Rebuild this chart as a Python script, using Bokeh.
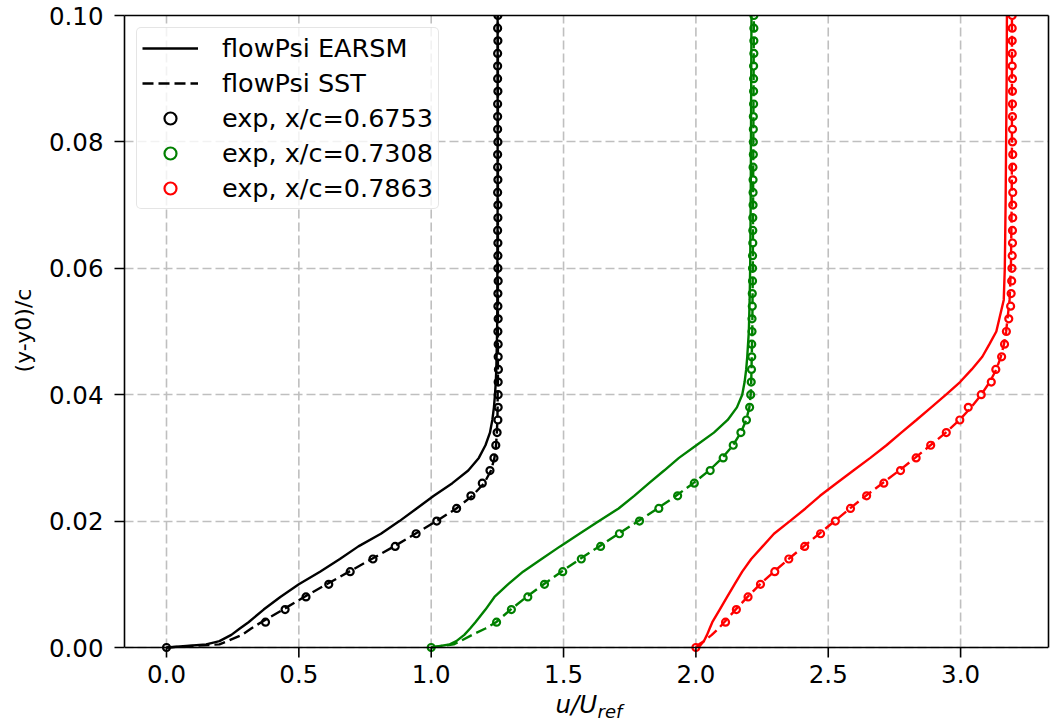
import math
from bokeh.plotting import figure
from bokeh.layouts import row, column
from bokeh.models import (Range1d, FixedTicker, PrintfTickFormatter, Legend, LegendItem,
                          Grid, LinearAxis)
from bokeh.core.properties import value
from bokeh.embed import file_html
from bokeh.resources import INLINE

# ---------------- data ----------------
offsets = [0.0, 1.0, 2.0]
colors = ["black", "green", "red"]
exp_labels = ["exp, x/c=0.6753", "exp, x/c=0.7308", "exp, x/c=0.7863"]

exp_y = [0.000, 0.004, 0.006, 0.008, 0.010, 0.012, 0.014, 0.016, 0.018, 0.020,
         0.022, 0.024, 0.026, 0.028, 0.030, 0.032, 0.034, 0.036, 0.038, 0.040,
         0.042, 0.044, 0.046, 0.048, 0.050, 0.052, 0.054, 0.056, 0.058, 0.060,
         0.062, 0.064, 0.066, 0.068, 0.070, 0.072, 0.074, 0.076, 0.078, 0.080,
         0.082, 0.084, 0.086, 0.088, 0.090, 0.092, 0.094, 0.096, 0.098, 0.100]

exp_u_0 = [0.0, 0.374, 0.448, 0.527, 0.613, 0.694, 0.780, 0.864, 0.943, 1.021,
           1.096, 1.150, 1.193, 1.222, 1.237, 1.244, 1.249, 1.252, 1.253, 1.253,
           1.253, 1.254, 1.253, 1.253, 1.252, 1.253, 1.252, 1.252, 1.253, 1.252,
           1.252, 1.252, 1.251, 1.252, 1.252, 1.251, 1.252, 1.251, 1.251, 1.252,
           1.251, 1.251, 1.251, 1.252, 1.251, 1.251, 1.251, 1.252, 1.251, 1.252]
exp_u_1 = [0.0, 0.247, 0.303, 0.365, 0.428, 0.497, 0.567, 0.640, 0.711, 0.787,
           0.860, 0.931, 0.994, 1.054, 1.103, 1.141, 1.170, 1.191, 1.203, 1.207,
           1.209, 1.210, 1.211, 1.211, 1.212, 1.212, 1.213, 1.213, 1.214, 1.214,
           1.214, 1.215, 1.215, 1.215, 1.216, 1.216, 1.216, 1.216, 1.217, 1.217,
           1.217, 1.217, 1.218, 1.218, 1.218, 1.218, 1.219, 1.219, 1.219, 1.219]
exp_u_2 = [0.0, 0.112, 0.153, 0.197, 0.244, 0.298, 0.351, 0.411, 0.471, 0.527,
           0.584, 0.645, 0.710, 0.773, 0.832, 0.887, 0.946, 0.997, 1.029, 1.078,
           1.116, 1.133, 1.155, 1.166, 1.173, 1.182, 1.189, 1.191, 1.193, 1.194,
           1.195, 1.196, 1.196, 1.197, 1.197, 1.197, 1.197, 1.197, 1.197, 1.196,
           1.196, 1.196, 1.196, 1.196, 1.196, 1.195, 1.195, 1.195, 1.195, 1.195]

model_y = [0.0, 0.0005, 0.001, 0.002, 0.003, 0.004, 0.006, 0.008, 0.010, 0.012,
           0.014, 0.016, 0.018, 0.020, 0.022, 0.024, 0.026, 0.028, 0.030, 0.032,
           0.034, 0.036, 0.038, 0.040, 0.042, 0.044, 0.046, 0.048, 0.050, 0.055,
           0.060, 0.070, 0.080, 0.090, 0.100]

earsm_u_0 = [0.0, 0.15, 0.20, 0.245, 0.277, 0.31, 0.367, 0.43, 0.50, 0.58,
             0.655, 0.725, 0.81, 0.88, 0.945, 1.01, 1.08, 1.14, 1.18, 1.205,
             1.222, 1.231, 1.237, 1.241, 1.244, 1.246, 1.247, 1.248, 1.249, 1.250,
             1.250, 1.251, 1.251, 1.251, 1.251]
sst_u_0 = [0.0, 0.20, 0.23, 0.285, 0.32, 0.358, 0.44, 0.52, 0.605, 0.69,
           0.775, 0.86, 0.94, 1.02, 1.095, 1.155, 1.20, 1.226, 1.239, 1.245,
           1.248, 1.250, 1.251, 1.251, 1.252, 1.252, 1.252, 1.252, 1.252, 1.252,
           1.252, 1.252, 1.252, 1.252, 1.252]

earsm_u_1 = [0.0, 0.07, 0.095, 0.125, 0.147, 0.167, 0.205, 0.239, 0.29, 0.347,
             0.417, 0.487, 0.56, 0.634, 0.708, 0.767, 0.823, 0.88, 0.936, 1.002,
             1.068, 1.12, 1.155, 1.175, 1.184, 1.19, 1.194, 1.197, 1.20, 1.203,
             1.205, 1.207, 1.208, 1.209, 1.21]
sst_u_1 = [0.0, 0.085, 0.11, 0.155, 0.205, 0.245, 0.30, 0.36, 0.425, 0.492,
           0.562, 0.635, 0.708, 0.782, 0.855, 0.925, 0.99, 1.05, 1.10, 1.14,
           1.17, 1.19, 1.202, 1.207, 1.209, 1.21, 1.211, 1.212, 1.213, 1.214,
           1.215, 1.216, 1.217, 1.218, 1.219]

earsm_u_2 = [0.01, 0.02, 0.03, 0.042, 0.052, 0.062, 0.09, 0.118, 0.146, 0.175,
             0.209, 0.252, 0.295, 0.355, 0.414, 0.469, 0.531, 0.595, 0.659, 0.72,
             0.776, 0.833, 0.889, 0.945, 0.998, 1.042, 1.082, 1.109, 1.135, 1.163,
             1.167, 1.17, 1.172, 1.174, 1.175]
sst_u_2 = [0.0, 0.012, 0.03, 0.06, 0.085, 0.107, 0.15, 0.195, 0.242, 0.295,
           0.35, 0.408, 0.466, 0.524, 0.582, 0.642, 0.705, 0.768, 0.828, 0.886,
           0.944, 0.996, 1.04, 1.078, 1.11, 1.135, 1.152, 1.164, 1.172, 1.185,
           1.19, 1.193, 1.194, 1.194, 1.194]

exp_u = [exp_u_0, exp_u_1, exp_u_2]
earsm_u = [earsm_u_0, earsm_u_1, earsm_u_2]
sst_u = [sst_u_0, sst_u_1, sst_u_2]

x_ticks = [0.0, 0.5, 1.0, 1.5, 2.0, 2.5, 3.0]
y_ticks = [0.00, 0.02, 0.04, 0.06, 0.08, 0.10]
x_tick_labels = ["%.1f" % t for t in x_ticks]
y_title = "(y-y0)/c"
x_title_main = "u/U"
x_title_sub = "ref"

FONT = "DejaVu Sans"
TICK_FS = "24.5px"
GRID_COLOR = "#bfbfbf"
SPINE_W = 1.6

Y0, Y1 = 0.0, 0.1
PX_PER_Y = 632 / (Y1 - Y0)       # pixel height of the data box
TICK_LEN = 10
BELOW_PX = 42                    # frame extends this far below y=0 (ticks + tick labels)
y_ext = BELOW_PX / PX_PER_Y
y_tick = TICK_LEN / PX_PER_Y
y_lab = 26.5 / PX_PER_Y          # tick-label centre below the x spine

xr = Range1d(-0.15867, 3.3321)
xpix = 1.0 / 264.7               # data units per pixel along x

P_H = 15 + 632 + BELOW_PX        # 689

# ---------------- main figure ----------------
p = figure(width=1010, height=P_H, output_backend="svg", toolbar_location=None,
           x_range=xr, y_range=Range1d(Y0 - y_ext, Y1), x_axis_location=None,
           min_border_left=84, min_border_right=2, min_border_top=15,
           min_border_bottom=0)
p.background_fill_color = "white"
p.border_fill_color = "white"
p.outline_line_color = None

p.center = [r for r in p.center if not isinstance(r, Grid)]
p.add_layout(Grid(dimension=1, ticker=FixedTicker(ticks=y_ticks),
                  grid_line_color=GRID_COLOR, grid_line_width=1.6,
                  grid_line_dash="9 4"), "center")
n = len(x_ticks)
p.segment(x0=x_ticks, y0=[Y0] * n, x1=x_ticks, y1=[Y1] * n,
          line_color=GRID_COLOR, line_width=1.6, line_dash="9 4")

ax = p.yaxis[0]
ax.bounds = (Y0, Y1)
ax.axis_line_color = "black"
ax.axis_line_width = SPINE_W
ax.major_tick_line_color = "black"
ax.major_tick_line_width = SPINE_W
ax.major_tick_out = TICK_LEN
ax.major_tick_in = 0
ax.minor_tick_line_color = None
ax.major_label_text_font = FONT
ax.major_label_text_color = "black"
ax.ticker = FixedTicker(ticks=y_ticks)
ax.formatter = PrintfTickFormatter(format="%.2f")
ax.major_label_text_font_size = TICK_FS
ax.major_label_standoff = 11

# right and top spines as bare axes (no ticks, no labels)
right_ax = LinearAxis(ticker=FixedTicker(ticks=[]), bounds=(Y0, Y1),
                      axis_line_color="black", axis_line_width=SPINE_W,
                      major_tick_out=0, major_tick_in=0, minor_tick_out=0,
                      minor_tick_in=0, major_label_standoff=0)
p.add_layout(right_ax, "right")
top_ax = LinearAxis(ticker=FixedTicker(ticks=[]),
                    axis_line_color="black", axis_line_width=SPINE_W,
                    major_tick_out=0, major_tick_in=0, minor_tick_out=0,
                    minor_tick_in=0, major_label_standoff=0)
p.add_layout(top_ax, "above")

earsm_r = []
sst_r = []
for i in range(3):
    xs = [u + offsets[i] for u in earsm_u[i]]
    earsm_r.append(p.line(xs, model_y, line_color=colors[i], line_width=2.4))
for i in range(3):
    xs = [u + offsets[i] for u in sst_u[i]]
    sst_r.append(p.line(xs, model_y, line_color=colors[i], line_width=2.4,
                        line_dash="11 5"))
exp_r = []
for i in range(3):
    xs = [u + offsets[i] for u in exp_u[i]]
    exp_r.append(p.scatter(xs, exp_y, marker="circle", size=7,
                           fill_color=None, line_color=colors[i], line_width=2.2))

# bottom spine, x tick marks and x tick labels
p.segment(x0=[xr.start], y0=[Y0], x1=[xr.end], y1=[Y0],
          line_color="black", line_width=SPINE_W)
p.segment(x0=x_ticks, y0=[Y0] * n, x1=x_ticks, y1=[Y0 - y_tick] * n,
          line_color="black", line_width=SPINE_W)
p.text(x=x_ticks, y=[Y0 - y_lab] * n, text=x_tick_labels,
       text_font=value(FONT), text_font_size=value(TICK_FS), text_color="black",
       text_align="center", text_baseline="middle")

items = [LegendItem(label="flowPsi EARSM", renderers=[earsm_r[0]]),
         LegendItem(label="flowPsi SST", renderers=[sst_r[0]])]
for i in range(3):
    items.append(LegendItem(label=exp_labels[i], renderers=[exp_r[i]]))

legend = Legend(items=items, location="top_left")
legend.margin = 12
legend.padding = 5
legend.spacing = 5
legend.glyph_width = 56
legend.glyph_height = 30
legend.label_height = 30
legend.label_standoff = 24
legend.label_text_font = FONT
legend.label_text_font_size = "25.5px"
legend.label_text_color = "black"
legend.background_fill_color = "white"
legend.background_fill_alpha = 0.8
legend.border_line_color = "#cccccc"
legend.border_line_width = 1.6
if "border_radius" in Legend.properties():
    legend.border_radius = 5
p.add_layout(legend)

# ---------------- strip below: x axis title ----------------
H2 = 722 - P_H   # 33
p2 = figure(width=1010, height=H2, output_backend="svg", toolbar_location=None,
            x_range=xr, y_range=Range1d(0, H2),
            x_axis_location=None, y_axis_location=None,
            min_border_left=84, min_border_right=2, min_border_top=0,
            min_border_bottom=0)
p2.outline_line_color = None
p2.background_fill_color = "white"
p2.border_fill_color = "white"
p2.center = [r for r in p2.center if not isinstance(r, Grid)]
p2.text(x=[(555 - 166) * xpix], y=[18.5], text=[x_title_main],
        text_font=value(FONT), text_font_size=value("24.5px"),
        text_font_style="italic", text_color="black",
        text_align="left", text_baseline="middle")
p2.text(x=[(597 - 166) * xpix], y=[11.2], text=[x_title_sub],
        text_font=value(FONT), text_font_size=value("18px"),
        text_font_style="italic", text_color="black",
        text_align="left", text_baseline="middle")

# ---------------- strip at left: y axis title ----------------
HL = P_H + H2
pl = figure(width=40, height=HL, output_backend="svg", toolbar_location=None,
            x_range=Range1d(0, 40), y_range=Range1d(0, HL),
            x_axis_location=None, y_axis_location=None, min_border=0)
pl.outline_line_color = None
pl.background_fill_color = "white"
pl.border_fill_color = "white"
pl.center = [r for r in pl.center if not isinstance(r, Grid)]
pl.text(x=[22.5], y=[HL - 330], text=[y_title], angle=math.pi / 2,
        text_font=value(FONT), text_font_size=value("22px"), text_color="black",
        text_align="center", text_baseline="middle")

layout = row(pl, column(p, p2))
open("out.html", "w").write(file_html(layout, INLINE))
